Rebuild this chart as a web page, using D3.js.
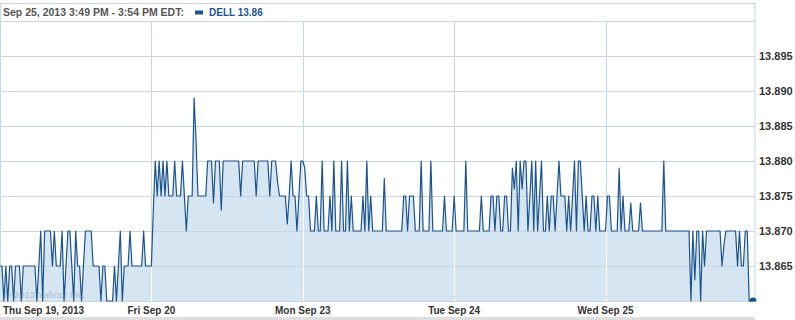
<!DOCTYPE html>
<html><head><meta charset="utf-8">
<script src="https://cdn.jsdelivr.net/npm/d3@7"></script>
<style>body{margin:0;background:#fff}svg{display:block}</style>
</head><body>
<script>
// 5-minute closing prices, one array per trading day (9:30 onward)
const day1 = [13.865,13.865,13.860,13.865,13.860,13.865,13.865,13.860,13.865,13.865,
  13.865,13.860,13.865,13.865,13.865,13.865,13.865,13.865,13.865,13.860,
  13.865,13.870,13.860,13.870,13.870,13.870,13.870,13.865,13.870,13.865,
  13.865,13.865,13.870,13.860,13.865,13.870,13.870,13.865,13.860,13.870,
  13.865,13.865,13.860,13.865,13.870,13.870,13.870,13.870,13.865,13.865,
  13.865,13.865,13.860,13.865,13.865,13.860,13.860,13.860,13.860,13.865,
  13.860,13.865,13.870,13.860,13.865,13.865,13.865,13.870,13.865,13.865,
  13.865,13.865,13.865,13.865,13.870,13.865,13.865,13.865];
const day2 = [13.865,13.873,13.880,13.875,13.880,13.875,13.880,13.875,13.880,13.875,
  13.875,13.875,13.880,13.875,13.875,13.875,13.880,13.875,13.870,13.875,
  13.875,13.875,13.889,13.883,13.875,13.875,13.875,13.875,13.875,13.880,
  13.880,13.880,13.874,13.880,13.880,13.880,13.873,13.880,13.880,13.880,
  13.880,13.880,13.880,13.880,13.880,13.880,13.875,13.880,13.880,13.880,
  13.880,13.880,13.880,13.880,13.875,13.880,13.880,13.880,13.880,13.880,
  13.880,13.875,13.880,13.880,13.880,13.877,13.875,13.875,13.875,13.875,
  13.871,13.875,13.880,13.875,13.875,13.870,13.875,13.880];
const day3 = [13.880,13.879,13.875,13.875,13.870,13.870,13.870,13.875,13.870,13.870,
  13.880,13.870,13.870,13.870,13.875,13.870,13.880,13.870,13.870,13.870,
  13.880,13.870,13.870,13.880,13.870,13.875,13.870,13.870,13.870,13.870,
  13.870,13.875,13.870,13.880,13.870,13.875,13.870,13.870,13.870,13.870,
  13.870,13.870,13.8775,13.870,13.870,13.870,13.870,13.870,13.870,13.870,
  13.870,13.870,13.875,13.875,13.870,13.875,13.875,13.875,13.870,13.870,
  13.870,13.880,13.870,13.870,13.870,13.870,13.880,13.870,13.870,13.870,
  13.870,13.870,13.870,13.875,13.870,13.870,13.870,13.870];
const day4 = [13.875,13.870,13.870,13.870,13.870,13.870,13.880,13.870,13.870,13.870,
  13.870,13.870,13.870,13.870,13.875,13.870,13.870,13.870,13.870,13.875,
  13.875,13.870,13.875,13.875,13.870,13.870,13.875,13.875,13.870,13.870,
  13.879,13.876,13.880,13.870,13.880,13.876,13.880,13.880,13.870,13.875,
  13.880,13.870,13.880,13.870,13.875,13.880,13.870,13.870,13.875,13.870,
  13.875,13.875,13.870,13.875,13.880,13.875,13.875,13.875,13.870,13.875,
  13.870,13.875,13.880,13.870,13.880,13.880,13.875,13.870,13.875,13.870,
  13.870,13.875,13.875,13.870,13.875,13.870,13.870,13.870];
const day5 = [13.870,13.875,13.875,13.870,13.870,13.870,13.870,13.879,13.870,13.875,
  13.870,13.870,13.870,13.874,13.870,13.870,13.870,13.870,13.874,13.870,
  13.870,13.870,13.870,13.870,13.870,13.870,13.870,13.870,13.870,13.870,
  13.880,13.870,13.870,13.870,13.870,13.870,13.870,13.870,13.870,13.870,
  13.870,13.870,13.870,13.870,13.860,13.870,13.863,13.870,13.870,13.860,
  13.870,13.865,13.870,13.870,13.870,13.870,13.870,13.870,13.870,13.870,
  13.865,13.868,13.870,13.870,13.870,13.870,13.870,13.870,13.865,13.870,
  13.865,13.865,13.870,13.870,13.860,13.860,13.860];

const dayLabels = ["Thu Sep 19, 2013","Fri Sep 20","Mon Sep 23","Tue Sep 24","Wed Sep 25"];
const yTicks = [13.865,13.870,13.875,13.880,13.885,13.890,13.895];
const yGrid = [13.865,13.870,13.875,13.880,13.885,13.890,13.895,13.900];
const yDomain = [13.860, 13.900];
const slotsPerDay = 78;
const totalSlots = 389;
const headerText = "Sep 25, 2013 3:49 PM - 3:54 PM EDT:";
const legendText = "DELL 13.86";
const watermarkText = "© 2013 Yahoo! Inc.";

const W = 795, H = 320;
const L = 0, R = 755, T = 21, B = 301;
const lineColor = "#1c548f";
const fillColor = "#d5e5f1";
const gridColor = "#c9d5df";
const font = "'Liberation Sans', Arial, sans-serif";

const days = [day1, day2, day3, day4, day5];
const data = days.flatMap((d, di) => d.map((v, i) => ({ i: di * slotsPerDay + i, v })));

const x = d3.scaleLinear().domain([0, totalSlots]).range([L, R]);
const y = d3.scaleLinear().domain(yDomain).range([B, T]);
const dayTicks = dayLabels.map((_, i) => i * slotsPerDay);
const crisp = v => Math.round(v) + 0.5;

const svg = d3.select("body").append("svg").attr("width", W).attr("height", H);

// frame
svg.append("rect").attr("x", 0.5).attr("y", 3.5).attr("width", R - 0.5).attr("height", B - 3)
  .attr("fill", "none").attr("stroke", gridColor);

// vertical grid
svg.append("g").selectAll("line").data(dayTicks.slice(1)).join("line")
  .attr("x1", d => crisp(x(d))).attr("x2", d => crisp(x(d)))
  .attr("y1", T).attr("y2", B).attr("stroke", gridColor);

// area
const area = d3.area().x(d => x(d.i)).y0(y(yDomain[0])).y1(d => y(d.v));
const areaPath = area(data);
svg.append("path").attr("d", areaPath).attr("fill", fillColor);

// horizontal grid
svg.append("g").selectAll("line").data(yGrid).join("line")
  .attr("x1", L).attr("x2", R)
  .attr("y1", d => crisp(y(d))).attr("y2", d => crisp(y(d)))
  .attr("stroke", gridColor);

// white day separators inside the fill
svg.append("clipPath").attr("id", "areaClip").append("path").attr("d", areaPath);
svg.append("g").attr("clip-path", "url(#areaClip)").selectAll("line").data(dayTicks.slice(1)).join("line")
  .attr("x1", d => crisp(x(d))).attr("x2", d => crisp(x(d)))
  .attr("y1", T).attr("y2", B).attr("stroke", "#ffffff");

// watermark
svg.append("text").attr("x", 4).attr("y", 298).text(watermarkText)
  .attr("font-family", font).attr("font-size", 9.6).attr("fill", "#9fb4c6").attr("opacity", 0.8);

// line
const line = d3.line().x(d => x(d.i)).y(d => y(d.v));
svg.append("path").attr("d", line(data)).attr("fill", "none")
  .attr("stroke", lineColor).attr("stroke-width", 1.2).attr("stroke-linejoin", "round");

// end marker clipped at plot bottom
svg.append("clipPath").attr("id", "plotClip").append("rect")
  .attr("x", L).attr("y", T).attr("width", R - L + 2).attr("height", B - T + 0.5);
const last = data[data.length - 1];
svg.append("circle").attr("clip-path", "url(#plotClip)")
  .attr("cx", x(last.i)).attr("cy", y(last.v)).attr("r", 3.5).attr("fill", lineColor);

// y labels
svg.append("g").selectAll("text").data(yTicks).join("text")
  .attr("x", 759).attr("y", d => crisp(y(d)) + 3.5)
  .text(d => d3.format(".3f")(d))
  .attr("font-family", font).attr("font-weight", "bold").attr("font-size", 11).attr("fill", "#333");

// x labels
svg.append("g").selectAll("text").data(dayLabels).join("text")
  .attr("x", (d, i) => i === 0 ? 3 : x(dayTicks[i]))
  .attr("text-anchor", (d, i) => i === 0 ? "start" : "middle")
  .attr("y", 314).text(d => d)
  .attr("font-family", font).attr("font-weight", "bold").attr("font-size", 10).attr("fill", "#333");

// bottom band
svg.append("rect").attr("x", 0).attr("y", 317).attr("width", R).attr("height", 3).attr("fill", "#dedede");

// header
svg.append("text").attr("x", 3).attr("y", 16).text(headerText)
  .attr("font-family", font).attr("font-weight", "bold").attr("font-size", 10.5).attr("fill", "#555");
svg.append("rect").attr("x", 195).attr("y", 10.5).attr("width", 8).attr("height", 4).attr("fill", lineColor);
svg.append("text").attr("x", 209).attr("y", 16).text(legendText)
  .attr("font-family", font).attr("font-weight", "bold").attr("font-size", 10).attr("fill", lineColor);
</script>
</body></html>
